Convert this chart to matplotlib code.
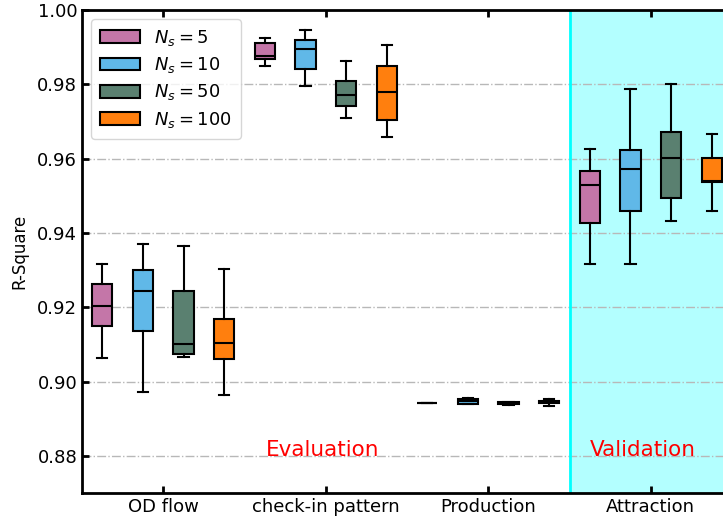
import matplotlib
matplotlib.use("Agg")
import matplotlib.pyplot as plt
from matplotlib.patches import Patch

tasks = ["OD flow", "check-in pattern", "Production", "Attraction"]
ns_labels = [r"$N_s=5$", r"$N_s=10$", r"$N_s=50$", r"$N_s=100$"]
colors = ["#c476a8", "#60b8e8", "#5a8070", "#ff7f0e"]

# (whislo, q1, med, q3, whishi) per task, one list per N_s
stats_5 = [
    (0.9064, 0.9150, 0.9203, 0.9263, 0.9316),
    (0.9848, 0.9868, 0.9876, 0.9910, 0.9924),
    (0.8943, 0.8943, 0.8943, 0.8943, 0.8943),
    (0.9316, 0.9427, 0.9530, 0.9567, 0.9626),
]
stats_10 = [
    (0.8971, 0.9135, 0.9244, 0.9299, 0.9369),
    (0.9796, 0.9841, 0.9894, 0.9919, 0.9945),
    (0.8939, 0.8940, 0.8947, 0.8954, 0.8956),
    (0.9316, 0.9460, 0.9572, 0.9623, 0.9787),
]
stats_50 = [
    (0.9065, 0.9075, 0.9101, 0.9243, 0.9366),
    (0.9708, 0.9741, 0.9772, 0.9810, 0.9864),
    (0.8938, 0.8940, 0.8942, 0.8944, 0.8946),
    (0.9432, 0.9495, 0.9601, 0.9671, 0.9801),
]
stats_100 = [
    (0.8963, 0.9062, 0.9104, 0.9169, 0.9304),
    (0.9658, 0.9704, 0.9780, 0.9850, 0.9906),
    (0.8933, 0.8941, 0.8944, 0.8947, 0.8952),
    (0.9460, 0.9536, 0.9541, 0.9603, 0.9667),
]
all_stats = [stats_5, stats_10, stats_50, stats_100]

offsets = [-0.375, -0.125, 0.125, 0.375]
box_w = 0.125

fig = plt.figure(figsize=(7.23, 5.22), dpi=100)
ax = fig.add_axes([82 / 723, 29 / 522, 650 / 723, 483 / 522])

# validation region
ax.axvspan(3.5, 4.5, color="#b3ffff", zorder=0)
ax.axvline(3.5, color="cyan", lw=2, zorder=1)

ax.yaxis.grid(True, linestyle="-.", color="#b8b8b8", lw=1, zorder=1)
ax.set_axisbelow(True)

for i, series in enumerate(all_stats):
    bxp_stats = []
    for s in series:
        lo, q1, med, q3, hi = s
        bxp_stats.append({"whislo": lo, "q1": q1, "med": med, "q3": q3,
                          "whishi": hi, "fliers": []})
    pos = [k + 1 + offsets[i] for k in range(len(tasks))]
    ax.bxp(bxp_stats, positions=pos, widths=box_w, patch_artist=True,
           showfliers=False,
           boxprops=dict(facecolor=colors[i], edgecolor="black", lw=1.5),
           medianprops=dict(color="black", lw=1.5),
           whiskerprops=dict(color="black", lw=1.5),
           capprops=dict(color="black", lw=1.5))

ax.set_xlim(0.5, 4.5)
ax.set_ylim(0.87, 1.0)
ax.set_xticks([1, 2, 3, 4])
ax.set_xticklabels(tasks)
ax.set_yticks([0.88, 0.90, 0.92, 0.94, 0.96, 0.98, 1.00])
ax.set_yticklabels(["0.88", "0.90", "0.92", "0.94", "0.96", "0.98", "1.00"])
ax.tick_params(direction="in", labelsize=13, width=2, length=5,
               top=True, right=True)
for sp in ax.spines.values():
    sp.set_linewidth(2)
ax.set_ylabel("R-Square", fontsize=12, labelpad=6)

ax.text(1.98, 0.8817, "Evaluation", color="red", fontsize=15.5,
        ha="center", va="center")
ax.text(3.95, 0.8817, "Validation", color="red", fontsize=15.5,
        ha="center", va="center")

handles = [Patch(facecolor=c, edgecolor="black", lw=1.5) for c in colors]
ax.legend(handles, ns_labels, loc="upper left", fontsize=13,
          handlelength=2.2, borderpad=0.5, labelspacing=0.4)

fig.savefig("out.png", dpi=100)
